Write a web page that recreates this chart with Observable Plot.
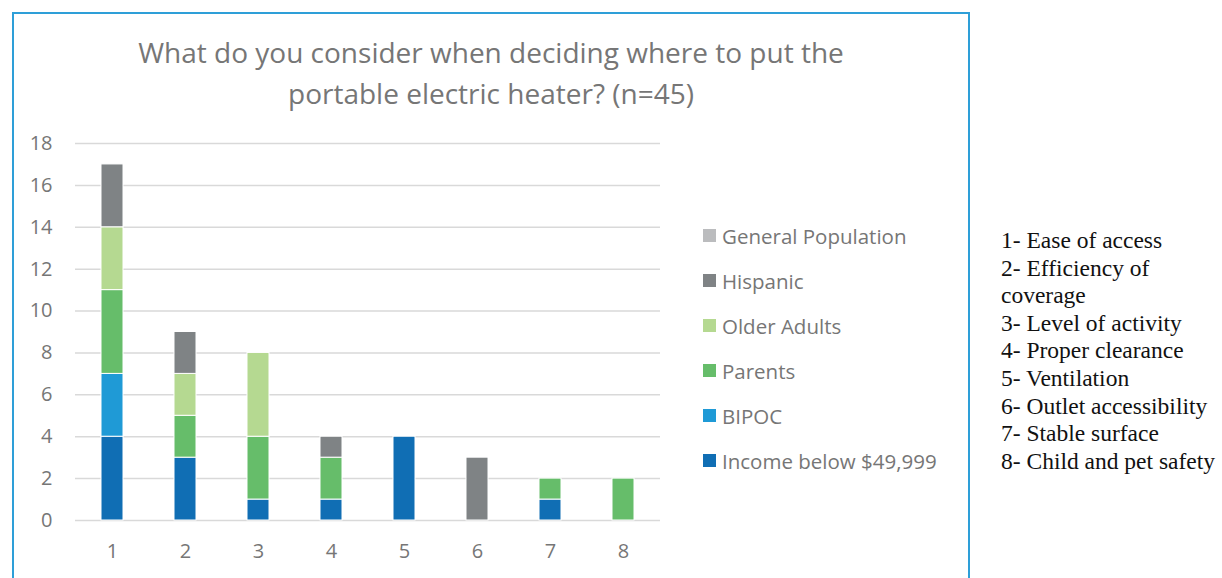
<!DOCTYPE html>
<html>
<head>
<meta charset="utf-8">
<script src="https://cdn.jsdelivr.net/npm/d3@7"></script>
<script src="https://cdn.jsdelivr.net/npm/@observablehq/plot@0.6"></script>
<style>
  html, body { margin: 0; padding: 0; background: #fff; }
  body { width: 1222px; height: 578px; position: relative; overflow: hidden; }
  #frame { position: absolute; left: 12px; top: 12px; width: 958px; height: 600px; border: 2px solid #2E9FD8; box-sizing: border-box; }
  #title { position: absolute; left: 12px; top: 32px; width: 958px; text-align: center;
           font-family: "Open Sans", sans-serif; font-size: 28px; line-height: 41px; color: #767676; }
  #chart { position: absolute; left: 0; top: 120px; }
  #legend { position: absolute; left: 703px; top: 213px; font-family: "Open Sans", sans-serif; font-size: 20.5px; color: #767676; }
  .row { height: 45px; display: flex; align-items: center; }
  .sw { width: 13px; height: 13px; margin-right: 6px; }
  #key { position: absolute; left: 1001px; top: 227px; font-family: "Liberation Serif", "Times New Roman", serif;
         font-size: 23.5px; line-height: 27.6px; color: #111; white-space: nowrap; }
</style>
</head>
<body>
<div id="frame"></div>
<div id="title">What do you consider when deciding where to put the<br>portable electric heater? (n=45)</div>
<div id="chart"></div>
<div id="legend"></div>
<div id="key"></div>
<script>
// Answer categories (x axis) and their descriptions
const categories = [1, 2, 3, 4, 5, 6, 7, 8];
const categoryLabels = [
  "1- Ease of access",
  "2- Efficiency of",
  "coverage",
  "3- Level of activity",
  "4- Proper clearance",
  "5- Ventilation",
  "6- Outlet accessibility",
  "7- Stable surface",
  "8- Child and pet safety"
];

// Respondent groups, stacked bottom to top
const seriesNames = ["Income below $49,999", "BIPOC", "Parents", "Older Adults", "Hispanic", "General Population"];
const seriesColors = ["#106EB4", "#1F9AD6", "#66BD6A", "#B5D991", "#7F8385", "#BBBCBE"];

// Counts per category for each group
const income            = [4, 3, 1, 1, 4, 0, 1, 0];
const bipoc             = [3, 0, 0, 0, 0, 0, 0, 0];
const parents           = [4, 2, 3, 2, 0, 0, 1, 2];
const olderAdults       = [3, 2, 4, 0, 0, 0, 0, 0];
const hispanic          = [3, 2, 0, 1, 0, 3, 0, 0];
const generalPopulation = [0, 0, 0, 0, 0, 0, 0, 0];

const yTicks = [0, 2, 4, 6, 8, 10, 12, 14, 16, 18];

const seriesValues = [income, bipoc, parents, olderAdults, hispanic, generalPopulation];
const rows = [];
seriesNames.forEach((name, i) => {
  categories.forEach((c, j) => {
    const v = seriesValues[i][j];
    if (v > 0) rows.push({category: c, series: name, value: v});
  });
});

const chart = Plot.plot({
  width: 700,
  height: 458,
  marginLeft: 75,
  marginRight: 40,
  marginTop: 23,
  marginBottom: 58,
  style: {background: "transparent", fontFamily: "Open Sans, sans-serif", fontSize: "20px", color: "#767676"},
  x: {domain: categories, paddingInner: 0.7, paddingOuter: 0.35, label: null, tickSize: 0, tickPadding: 23},
  y: {domain: [0, 18], ticks: yTicks, label: null, tickSize: 0, tickPadding: 23},
  color: {domain: seriesNames, range: seriesColors},
  marks: [
    Plot.ruleY(yTicks, {stroke: "#D9D9D9", strokeWidth: 1.5}),
    Plot.barY(rows, Plot.stackY({order: seriesNames}, {
      x: "category", y: "value", z: "series", fill: "series", stroke: "white", strokeWidth: 1
    }))
  ]
});
document.getElementById("chart").appendChild(chart);

// Legend, listed top group first
const legend = document.getElementById("legend");
seriesNames.slice().reverse().forEach(name => {
  const row = document.createElement("div");
  row.className = "row";
  const sw = document.createElement("div");
  sw.className = "sw";
  sw.style.background = seriesColors[seriesNames.indexOf(name)];
  const label = document.createElement("span");
  label.textContent = name;
  row.appendChild(sw);
  row.appendChild(label);
  legend.appendChild(row);
});

// Category key
const key = document.getElementById("key");
categoryLabels.forEach(t => {
  const d = document.createElement("div");
  d.textContent = t;
  key.appendChild(d);
});
</script>
</body>
</html>
